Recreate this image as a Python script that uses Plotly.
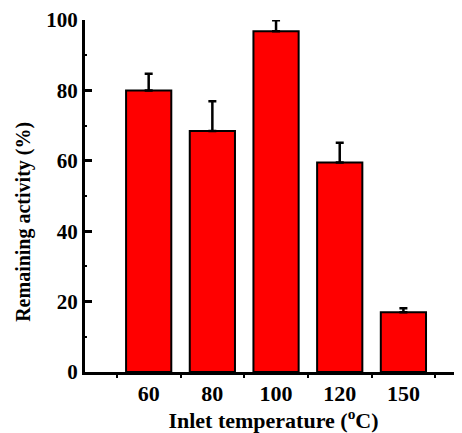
import plotly.graph_objects as go

categories = ["60", "80", "100", "120", "150"]
activity = [80.0, 68.5, 96.8, 59.5, 17.0]
err_plus = [4.7, 8.4, 3.1, 5.6, 1.1]
err_minus = [0, 0, 0, 0, 0]

FONT = "Liberation Serif"

fig = go.Figure()
fig.add_trace(go.Bar(
    x=categories, y=activity, width=0.71,
    marker=dict(color="#FF0000", line=dict(color="black", width=2)),
    error_y=dict(type="data", symmetric=False, array=err_plus, arrayminus=err_minus,
                 color="black", thickness=2.5, width=4),
))

# page body has an 8px default margin, so the figure is sized to end at the window edge
fig.update_layout(
    width=454, height=425,
    margin=dict(l=77, r=0, t=12, b=61, autoexpand=False),
    paper_bgcolor="white", plot_bgcolor="white",
    showlegend=False,
    font=dict(family=FONT, color="black"),
)
fig.update_xaxes(
    type="category", range=[-1, 4.92], automargin=False,
    showline=True, linecolor="black", linewidth=3,
    ticks="outside", tickson="boundaries", ticklen=3, tickwidth=1.5, tickcolor="black",
    tickfont=dict(family=FONT, size=22, color="black", weight="bold"),
    title=dict(text="<b>Inlet temperature (<sup>o</sup>C)</b>", font=dict(family=FONT, size=22, color="black"), standoff=3),
    showgrid=False, zeroline=False,
)
fig.update_yaxes(
    range=[0, 100], tickvals=[0, 20, 40, 60, 80, 100], automargin=False,
    showline=True, linecolor="black", linewidth=3,
    ticks="inside", ticklen=7, tickwidth=2.5, tickcolor="black",
    minor=dict(ticks="inside", ticklen=2, tickwidth=1.5, tickcolor="black", dtick=10, tick0=10),
    tickfont=dict(family=FONT, size=21, color="black", weight="bold"),
    showgrid=False, zeroline=False,
)
fig.add_annotation(
    text="<b>Remaining activity (%)</b>", textangle=-90,
    xref="paper", yref="paper", x=-0.165, y=0.426, xanchor="center", yanchor="middle",
    showarrow=False, font=dict(family=FONT, size=20, color="black"),
)

fig.write_html("out.html")
